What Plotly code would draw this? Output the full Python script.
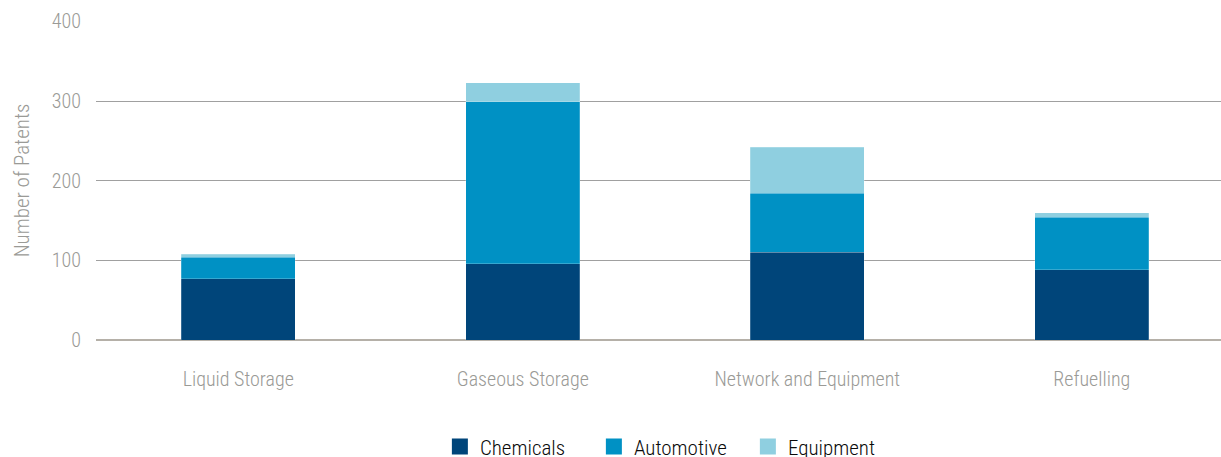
import plotly.graph_objects as go

categories = ["Liquid Storage", "Gaseous Storage", "Network and Equipment", "Refuelling"]
chemicals = [77, 96, 110, 88]
automotive = [27, 203, 74, 66]
equipment = [4, 24, 58, 6]
y_ticks = [0, 100, 200, 300, 400]

colors = {"Chemicals": "#00457A", "Automotive": "#0091C4", "Equipment": "#8FCFE0"}
FONT = "Roboto Condensed, Barlow Condensed, DejaVu Sans Condensed, sans-serif"
GREY = "#9a9a96"

fig = go.Figure()
series = [("Chemicals", chemicals), ("Automotive", automotive), ("Equipment", equipment)]
for name, vals in series:
    fig.add_trace(go.Bar(
        x=categories, y=vals, name=name, showlegend=False, legendgroup=name,
        marker=dict(color=colors[name], line=dict(color="rgba(255,255,255,0.35)", width=0.6)),
        width=0.4,
    ))
# legend entries with larger square swatches
for name, _ in series:
    fig.add_trace(go.Scatter(
        x=[None], y=[None], mode="markers", name=name, legendgroup=name,
        marker=dict(symbol="square", size=16, color=colors[name], line=dict(width=0)),
    ))

fig.update_layout(
    barmode="stack",
    width=1221, height=457,
    margin=dict(l=96, r=0, t=21, b=117, autoexpand=False),
    paper_bgcolor="white", plot_bgcolor="white",
    font=dict(family=FONT, color=GREY, weight=300),
    showlegend=True,
    legend=dict(orientation="h", x=0.511, xanchor="center", y=-0.335, yanchor="middle",
                font=dict(size=21, color="#0a0a0a", family=FONT, weight=300),
                itemwidth=30, entrywidth=109, entrywidthmode="pixels",
                traceorder="normal"),
    xaxis=dict(range=[-0.5, 3.454], showgrid=False, showline=False, ticks="",
               tickfont=dict(size=20, color=GREY, family=FONT, weight=300), ticklabelstandoff=25),
    yaxis=dict(range=[0, 400.6], tickvals=y_ticks, showgrid=True, gridcolor="#a0a0a0", gridwidth=1,
               zeroline=True, zerolinecolor="#b5b0a8", zerolinewidth=2,
               tickfont=dict(size=20, color=GREY, family=FONT, weight=300), ticklabelstandoff=14,
               title=dict(text="Number of Patents", font=dict(size=21, color=GREY, family=FONT, weight=300), standoff=16)),
)

fig.write_html("out.html")
